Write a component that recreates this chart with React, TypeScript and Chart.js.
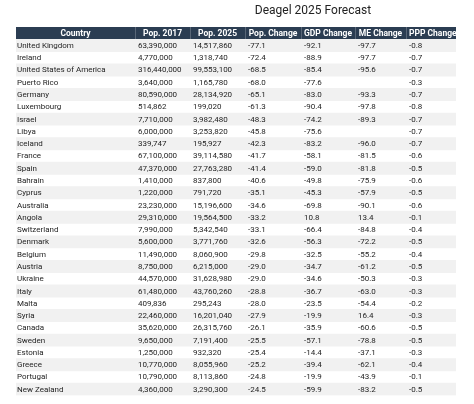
import React, { useEffect, useRef } from "react";
import { Chart, registerables } from "chart.js";

Chart.register(...registerables);

const title = "Deagel 2025 Forecast";
const headers = ["Country", "Pop. 2017", "Pop. 2025", "Pop. Change", "GDP Change", "ME Change", "PPP Change"];

const countries = [
  "United Kingdom", "Ireland", "United States of America", "Puerto Rico", "Germany", "Luxembourg",
  "Israel", "Libya", "Iceland", "France", "Spain", "Bahrain", "Cyprus", "Australia", "Angola",
  "Switzerland", "Denmark", "Belgium", "Austria", "Ukraine", "Italy", "Malta", "Syria", "Canada",
  "Sweden", "Estonia", "Greece", "Portugal", "New Zealand",
];

const pop2017 = [
  63390000, 4770000, 316440000, 3640000, 80590000, 514862, 7710000, 6000000, 339747, 67100000,
  47370000, 1410000, 1220000, 23230000, 29310000, 7990000, 5600000, 11490000, 8750000, 44570000,
  61480000, 409836, 22460000, 35620000, 9650000, 1250000, 10770000, 10790000, 4360000,
];

const pop2025 = [
  14517860, 1318740, 99553100, 1165780, 28134920, 199020, 3982480, 3253820, 195927, 39114580,
  27763280, 837800, 791720, 15196600, 19564500, 5342540, 3771760, 8060900, 6215000, 31628980,
  43760260, 295243, 16201040, 26315760, 7191400, 932320, 8055960, 8113860, 3290300,
];

const popChange = [
  -77.1, -72.4, -68.5, -68.0, -65.1, -61.3, -48.3, -45.8, -42.3, -41.7, -41.4, -40.6, -35.1, -34.6,
  -33.2, -33.1, -32.6, -29.8, -29.0, -29.0, -28.8, -28.0, -27.9, -26.1, -25.5, -25.4, -25.2, -24.8, -24.5,
];

const gdpChange = [
  -92.1, -88.9, -85.4, -77.6, -83.0, -90.4, -74.2, -75.6, -83.2, -58.1, -59.0, -49.8, -45.3, -69.8,
  10.8, -66.4, -56.3, -32.5, -34.7, -34.6, -36.7, -23.5, -19.9, -35.9, -57.1, -14.4, -39.4, -19.9, -59.9,
];

const meChange: (number | null)[] = [
  -97.7, -97.7, -95.6, null, -93.3, -97.8, -89.3, null, -96.0, -81.5, -81.8, -75.9, -57.9, -90.1,
  13.4, -84.8, -72.2, -55.2, -61.2, -50.3, -63.0, -54.4, 16.4, -60.6, -78.8, -37.1, -62.1, -43.9, -83.2,
];

const pppChange = [
  -0.8, -0.7, -0.7, -0.3, -0.7, -0.8, -0.7, -0.7, -0.7, -0.6, -0.5, -0.6, -0.5, -0.6, -0.1, -0.4,
  -0.5, -0.4, -0.5, -0.3, -0.3, -0.2, -0.3, -0.5, -0.5, -0.3, -0.4, -0.1, -0.5,
];

// layout (column edges in table units)
const COL_EDGES = [0, 119, 174, 229, 285, 339, 390, 440];
const TEXT_PAD = [1, 3, 3, 3, 3, 3, 3];
const HEADER_BG = "#2b3d52";
const STRIPE_BG = "#f1f1f1";
const FONT = "Roboto";

const fmtInt = (v: number) => v.toLocaleString("en-US");
const fmt1 = (v: number | null) => (v === null ? "" : v.toFixed(1));

const rowLabels = ["__header__", ...countries];

const cellText = (r: number, c: number): string => {
  switch (c) {
    case 0: return countries[r];
    case 1: return fmtInt(pop2017[r]);
    case 2: return fmtInt(pop2025[r]);
    case 3: return fmt1(popChange[r]);
    case 4: return fmt1(gdpChange[r]);
    case 5: return fmt1(meChange[r]);
    default: return fmt1(pppChange[r]);
  }
};

const tablePlugin = {
  id: "tableText",
  afterDatasetsDraw(chart: any) {
    const { ctx, chartArea } = chart;
    const x = chart.scales.x;
    const y = chart.scales.y;
    ctx.save();
    // title
    ctx.fillStyle = "#222222";
    ctx.font = `12px ${FONT}`;
    ctx.textAlign = "center";
    ctx.textBaseline = "middle";
    ctx.fillText(title, 313, 10.5);

    ctx.beginPath();
    ctx.rect(chartArea.left, chartArea.top, chartArea.right - chartArea.left, chartArea.bottom - chartArea.top);
    ctx.clip();

    const band = y.getPixelForValue(1) - y.getPixelForValue(0);
    const hy = y.getPixelForValue(0);
    // header dividers
    ctx.strokeStyle = "rgba(255,255,255,0.22)";
    ctx.lineWidth = 1;
    for (let c = 1; c < COL_EDGES.length - 1; c++) {
      const px = Math.round(x.getPixelForValue(COL_EDGES[c])) + 0.5;
      ctx.beginPath();
      ctx.moveTo(px, hy - band / 2);
      ctx.lineTo(px, hy + band / 2);
      ctx.stroke();
    }
    // header text
    ctx.font = `bold 8.5px ${FONT}`;
    ctx.fillStyle = "#ffffff";
    headers.forEach((h, c) => {
      const l = x.getPixelForValue(COL_EDGES[c]);
      const r = x.getPixelForValue(COL_EDGES[c + 1]);
      const w = ctx.measureText(h).width;
      if (w > r - l - 6) {
        ctx.textAlign = "left";
        ctx.fillText(h, l + 3, hy + 0.5);
      } else {
        ctx.textAlign = "center";
        ctx.fillText(h, (l + r) / 2, hy + 0.5);
      }
    });
    // body text
    ctx.font = `8px ${FONT}`;
    ctx.fillStyle = "#1e1e1e";
    ctx.textAlign = "left";
    for (let r = 0; r < countries.length; r++) {
      const py = y.getPixelForValue(r + 1) + 0.5;
      for (let c = 0; c < headers.length; c++) {
        const t = cellText(r, c);
        if (!t) continue;
        ctx.fillText(t, x.getPixelForValue(COL_EDGES[c]) + TEXT_PAD[c], py);
      }
    }
    ctx.restore();
  },
};

export default function App() {
  const ref = useRef<HTMLCanvasElement | null>(null);
  useEffect(() => {
    if (!ref.current) return;
    const full = COL_EDGES[COL_EDGES.length - 1];
    const chart = new Chart(ref.current, {
      type: "bar",
      data: {
        labels: rowLabels,
        datasets: [
          {
            data: rowLabels.map((_, i) => (i === 0 || i % 2 === 1 ? [0, full] : null)) as any,
            backgroundColor: (c: any) => (c.dataIndex === 0 ? HEADER_BG : STRIPE_BG),
            borderWidth: 0,
            barPercentage: 1,
            categoryPercentage: 1,
          },
        ],
      },
      options: {
        indexAxis: "y",
        animation: false,
        responsive: true,
        maintainAspectRatio: false,
        layout: { padding: { left: 16, right: 18, top: 27, bottom: 8.6 } },
        plugins: { legend: { display: false }, tooltip: { enabled: false }, title: { display: false } },
        scales: {
          x: { type: "linear", min: 0, max: full, display: false },
          y: { type: "category", display: false, grid: { display: false } },
        },
        events: [],
      },
      plugins: [tablePlugin],
    });
    return () => chart.destroy();
  }, []);
  return (
    <div style={{ position: "fixed", left: 0, top: 0, width: 474, height: 404, background: "#fff" }}>
      <canvas ref={ref} />
    </div>
  );
}
